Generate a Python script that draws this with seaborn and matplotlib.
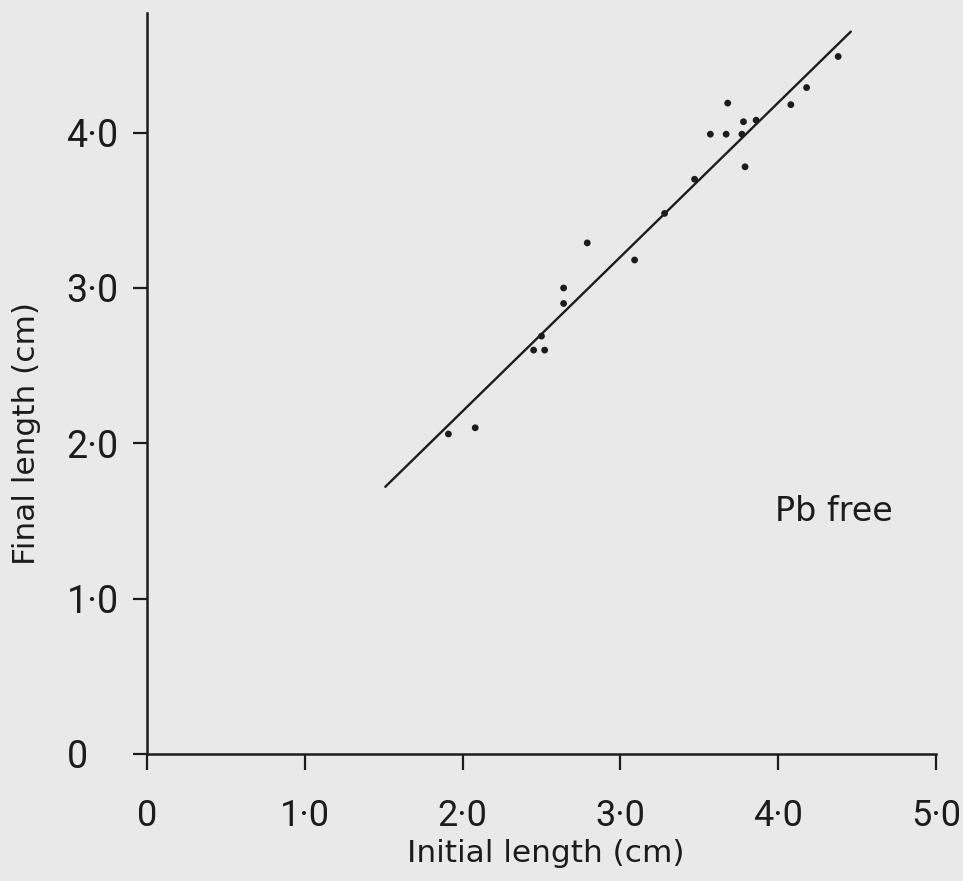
import matplotlib
matplotlib.use("Agg")
import matplotlib.pyplot as plt
import seaborn as sns
import pandas as pd

# Specimen lengths before and after exposure (cm), Pb-free solution
initial_length = [4.38, 4.18, 4.08, 3.68, 3.78, 3.86, 3.57, 3.67, 3.77, 3.79,
                  3.47, 3.28, 2.79, 3.09, 2.64, 2.64, 2.50, 2.45, 2.52, 2.08, 1.91]
final_length = [4.49, 4.29, 4.18, 4.19, 4.07, 4.08, 3.99, 3.99, 3.99, 3.78,
                3.70, 3.48, 3.29, 3.18, 3.00, 2.90, 2.69, 2.60, 2.60, 2.10, 2.06]

# Fitted line drawn through the data
fit_initial = [1.51, 4.46]
fit_final = [1.72, 4.65]

x_ticks = [0, 1, 2, 3, 4, 5]
x_tick_labels = ["0", "1·0", "2·0", "3·0", "4·0", "5·0"]
y_ticks = [0, 1, 2, 3, 4]
y_tick_labels = ["0", "1·0", "2·0", "3·0", "4·0"]

points = pd.DataFrame({"initial": initial_length, "final": final_length})
fit = pd.DataFrame({"initial": fit_initial, "final": fit_final})

sns.set_style("ticks")
bg = "#e9e9e9"
ink = "#1c1c1c"
plt.rcParams["font.family"] = ["DejaVu Sans"]

fig = plt.figure(figsize=(9.63, 8.81), dpi=100, facecolor=bg)
ax = fig.add_axes([147 / 963, 1 - 754 / 881, (936 - 147) / 963, (754 - 13) / 881])
ax.set_facecolor(bg)

sns.lineplot(data=fit, x="initial", y="final", ax=ax, color=ink, linewidth=1.7)
sns.scatterplot(data=points, x="initial", y="final", ax=ax, color=ink,
                s=24, edgecolor="none", zorder=3)

ax.set_xlim(0, 5)
ax.set_ylim(0, 4.77)
sns.despine(ax=ax)
for side in ("left", "bottom"):
    ax.spines[side].set_linewidth(1.8)
    ax.spines[side].set_color(ink)

tick_font = ["Roboto", "DejaVu Sans"]
ax.set_xticks(x_ticks)
ax.set_xticklabels(x_tick_labels, family=tick_font, fontsize=26, color=ink)
ax.set_yticks(y_ticks)
ax.set_yticklabels(y_tick_labels, family=tick_font, fontsize=27, color=ink, ha="left")
ax.tick_params(axis="x", length=11.5, width=1.6, color=ink, pad=20)
ax.tick_params(axis="y", length=10, width=1.6, color=ink, pad=48)

ax.set_xlabel("Initial length (cm)", fontsize=22.5, color=ink)
ax.set_ylabel("Final length (cm)", fontsize=22.5, color=ink)
ax.xaxis.set_label_coords(0.506, -0.115)
ax.yaxis.set_label_coords(-0.134, 0.433)

ax.text(3.98, 1.56, "Pb free", fontsize=24, color=ink, va="center")

fig.savefig("out.png", dpi=100, facecolor=bg)
